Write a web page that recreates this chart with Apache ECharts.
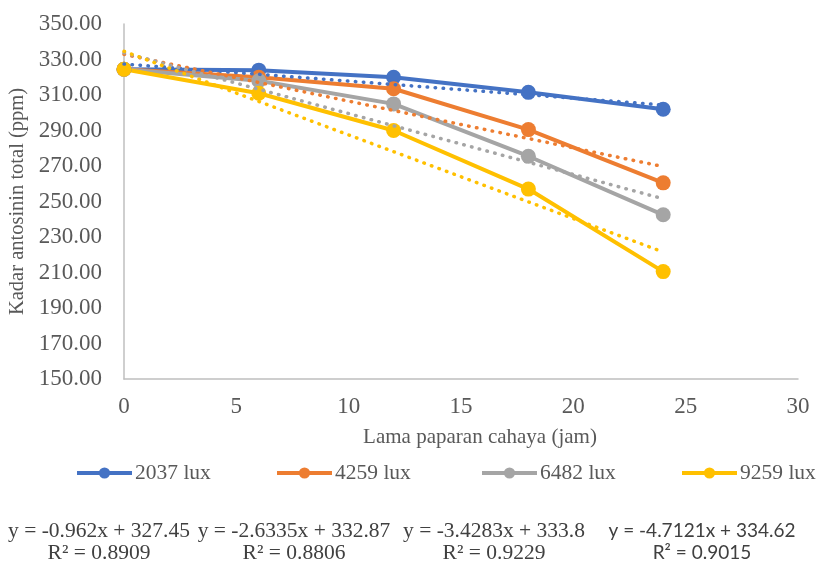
<!DOCTYPE html>
<html><head><meta charset="utf-8">
<script src="https://cdn.jsdelivr.net/npm/echarts@6/dist/echarts.min.js"></script>
<style>html,body{margin:0;padding:0;background:#fff}#c{width:817px;height:562px}</style>
</head><body><div id="c"></div>
<script>
const hours = [0, 6, 12, 18, 24];
const seriesNames = ['2037 lux', '4259 lux', '6482 lux', '9259 lux'];
const lux2037 = [324.5, 324.0, 320.0, 311.5, 302.0];
const lux4259 = [324.5, 320.0, 313.5, 290.5, 260.5];
const lux6482 = [324.5, 318.0, 305.0, 275.5, 242.5];
const lux9259 = [324.5, 311.0, 290.0, 257.0, 210.5];
const trendX = [0, 24];
const trend2037 = [327.45, 304.36];
const trend4259 = [332.87, 269.67];
const trend6482 = [333.80, 251.53];
const trend9259 = [334.62, 221.53];
const equations = ['y = -0.962x + 327.45', 'y = -2.6335x + 332.87', 'y = -3.4283x + 333.8', 'y = -4.7121x + 334.62'];
const r2Labels = ['R² = 0.8909', 'R² = 0.8806', 'R² = 0.9229', 'R² = 0.9015'];
const colors = ['#4472C4', '#ED7D31', '#A5A5A5', '#FFC000'];

const values = [lux2037, lux4259, lux6482, lux9259];
const trends = [trend2037, trend4259, trend6482, trend9259];
const serif = '"Liberation Serif", "Times New Roman", serif';

const series = [];
values.forEach((vals, i) => {
  series.push({
    name: seriesNames[i], type: 'line',
    data: hours.map((h, j) => [h, vals[j]]),
    symbol: 'circle', symbolSize: 15,
    lineStyle: {width: 4, color: colors[i]},
    itemStyle: {color: colors[i]},
    z: 2
  });
});
trends.forEach((t, i) => {
  series.push({
    name: 'trend' + i, type: 'line',
    data: trendX.map((x, j) => [x, t[j]]),
    symbol: 'none', silent: true,
    lineStyle: {width: 3.5, color: colors[i], type: [0.5, 7.5], cap: 'round'},
    z: 3
  });
});

const legendLeft = [75, 275, 480, 680];
const legends = seriesNames.map((n, i) => ({
  data: [n], left: legendLeft[i], top: 462, padding: 0,
  itemWidth: 55, itemHeight: 14, itemGap: 4,
  lineStyle: {width: 4},
  textStyle: {fontFamily: serif, fontSize: 21.5, color: '#595959', padding: [0, 0, 0, -2]}
}));

const eqX = [99, 294, 494, 702];
const graphic = [];
equations.forEach((e, i) => {
  const ff = i === 3 ? '"Lato", "Liberation Sans", sans-serif' : serif;
  const fs = i === 3 ? 19 : 21.5;
  graphic.push({type: 'text', x: eqX[i], y: 531, style: {text: e, font: fs + 'px ' + ff, fill: '#404040', align: 'center', verticalAlign: 'middle'}});
  graphic.push({type: 'text', x: eqX[i], y: 553, style: {text: r2Labels[i], font: fs + 'px ' + ff, fill: '#404040', align: 'center', verticalAlign: 'middle'}});
});

const chart = echarts.init(document.getElementById('c'));
chart.setOption({
  animation: false,
  color: colors,
  grid: {left: 124, right: 19, top: 24, bottom: 183, outerBoundsMode: 'none'},
  xAxis: {
    type: 'value', min: 0, max: 30, interval: 5,
    name: 'Lama paparan cahaya (jam)', nameLocation: 'middle', nameGap: 48,
    nameTextStyle: {fontFamily: serif, fontSize: 21, color: '#595959', padding: [0, 0, 0, 38]},
    axisLine: {lineStyle: {color: '#BFBFBF', width: 1.5}},
    axisTick: {show: false}, splitLine: {show: false},
    axisLabel: {fontFamily: serif, fontSize: 23, color: '#595959', margin: 16}
  },
  yAxis: {
    type: 'value', min: 150, max: 350, interval: 20,
    name: 'Kadar antosinin total (ppm)', nameLocation: 'middle', nameGap: 94,
    nameTextStyle: {fontFamily: serif, fontSize: 20.5, color: '#595959'},
    axisLine: {show: true, lineStyle: {color: '#BFBFBF', width: 1.5}},
    axisTick: {show: false}, splitLine: {show: false},
    axisLabel: {fontFamily: serif, fontSize: 23, color: '#595959', margin: 22, formatter: v => v.toFixed(2)}
  },
  legend: legends,
  graphic: graphic,
  series: series
});
</script></body></html>
